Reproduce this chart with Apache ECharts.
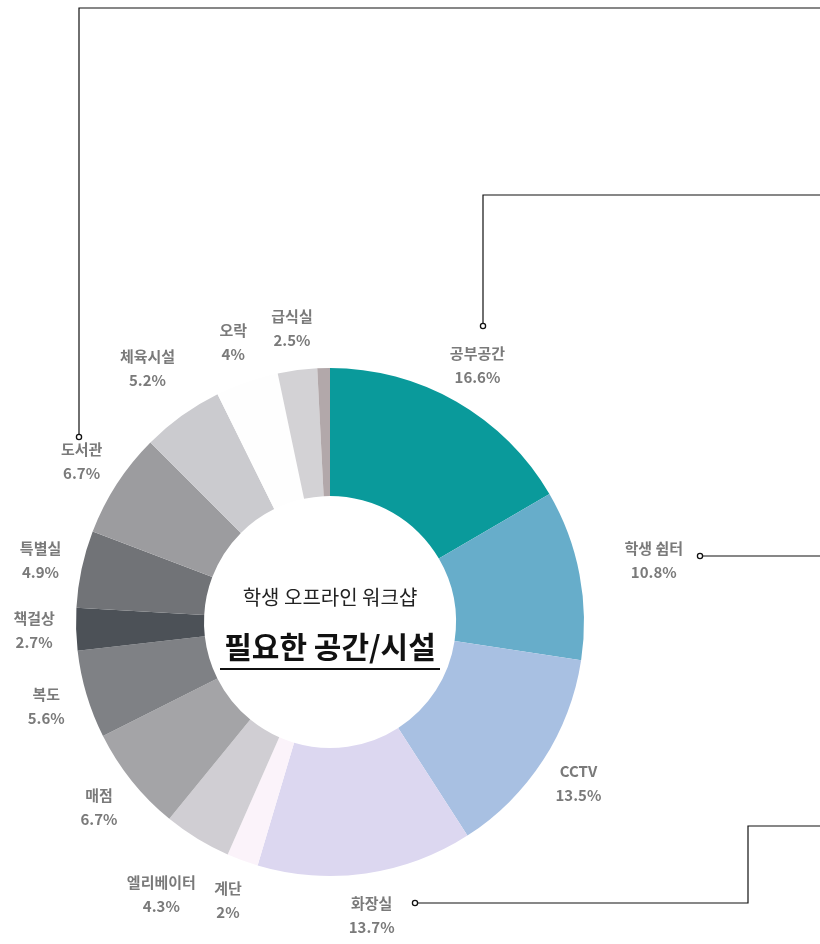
<!DOCTYPE html>
<html>
<head>
<meta charset="utf-8">
<script src="https://cdn.jsdelivr.net/npm/echarts@6/dist/echarts.min.js"></script>
<style>
  html, body { margin: 0; padding: 0; background: #ffffff; }
  #chart { width: 820px; height: 944px; }
</style>
</head>
<body>
<div id="chart"></div>
<script>
// Facility categories, clockwise from 12 o'clock
const categories = ['공부공간', '학생 쉼터', 'CCTV', '화장실', '계단', '엘리베이터', '매점', '복도', '책걸상', '특별실', '도서관', '체육시설', '오락', '급식실', ''];
// Share of responses (%)
const shares = [16.6, 10.8, 13.5, 13.7, 2, 4.3, 6.7, 5.6, 2.7, 4.9, 6.7, 5.2, 4, 2.5, 0.8];
const sliceColors = ['#0a9a9b', '#67adca', '#a8c0e2', '#dcd7f0', '#fbf3fa', '#d0ced3', '#a4a4a7', '#7f8185', '#4c5157', '#717377', '#9c9c9f', '#cbcbcf', '#fefefe', '#d3d2d5', '#b2a8aa'];

const centerTitle = '학생 오프라인 워크샵';
const centerHeading = '필요한 공간/시설';

// a few labels sit a little further out than the rest
const labelNudge = {
  '학생 쉼터': [33, -6],
  '엘리베이터': [-14, 20],
  '체육시설': [-10, -13]
};

const chart = echarts.init(document.getElementById('chart'), null, { renderer: 'canvas' });

const cx = 330, cy = 622;

const sliceData = categories.map((name, i) => ({
  name: name,
  value: shares[i],
  itemStyle: { color: sliceColors[i] }
}));

const labelData = categories.map((name, i) => ({
  name: name,
  value: shares[i],
  label: { show: name !== '', offset: labelNudge[name] || [0, 0] }
}));

const lineStyle = { stroke: '#111111', lineWidth: 1.2, fill: null };
const dotStyle = { stroke: '#111111', lineWidth: 1.3, fill: '#ffffff' };

function leader(points) {
  return [
    { type: 'polyline', silent: true, shape: { points: points }, style: lineStyle, z: 10 },
    { type: 'circle', silent: true, shape: { cx: points[0][0], cy: points[0][1], r: 2.6 }, style: dotStyle, z: 11 }
  ];
}

const option = {
  backgroundColor: '#ffffff',
  animation: false,
  series: [
    {
      type: 'pie',
      center: [cx, cy],
      radius: [126, 254],
      startAngle: 90,
      clockwise: true,
      silent: true,
      label: { show: false },
      labelLine: { show: false },
      data: sliceData
    },
    {
      // transparent ring that carries the category labels
      type: 'pie',
      center: [cx, cy],
      radius: [254, 332],
      startAngle: 90,
      clockwise: true,
      silent: true,
      itemStyle: { color: 'rgba(0,0,0,0)' },
      label: {
        show: true,
        position: 'inside',
        formatter: p => p.name + '\n' + p.value + '%',
        color: '#7a7a7a',
        fontSize: 15,
        lineHeight: 24,
        fontFamily: '"Noto Sans CJK KR", "Noto Sans", sans-serif',
        fontWeight: 'bold',
        align: 'center'
      },
      labelLine: { show: false },
      data: labelData
    }
  ],
  graphic: [
    {
      type: 'text',
      silent: true,
      style: {
        text: centerTitle,
        x: cx, y: 597,
        align: 'center', verticalAlign: 'middle',
        font: '20px "Noto Sans CJK KR", sans-serif',
        fill: '#222222'
      }
    },
    {
      type: 'text',
      silent: true,
      style: {
        text: centerHeading,
        x: cx, y: 647,
        align: 'center', verticalAlign: 'middle',
        font: 'bold 30px "Noto Sans CJK KR", sans-serif',
        fill: '#111111'
      }
    },
    {
      type: 'line',
      silent: true,
      shape: { x1: 220, y1: 669, x2: 440, y2: 669 },
      style: { stroke: '#111111', lineWidth: 2 }
    },
    ...leader([[79, 437], [79, 8], [820, 8]]),
    ...leader([[483, 326], [483, 195], [820, 195]]),
    ...leader([[700, 556], [820, 556]]),
    ...leader([[415, 903], [748, 903], [748, 826], [820, 826]])
  ]
};

chart.setOption(option);
</script>
</body>
</html>
